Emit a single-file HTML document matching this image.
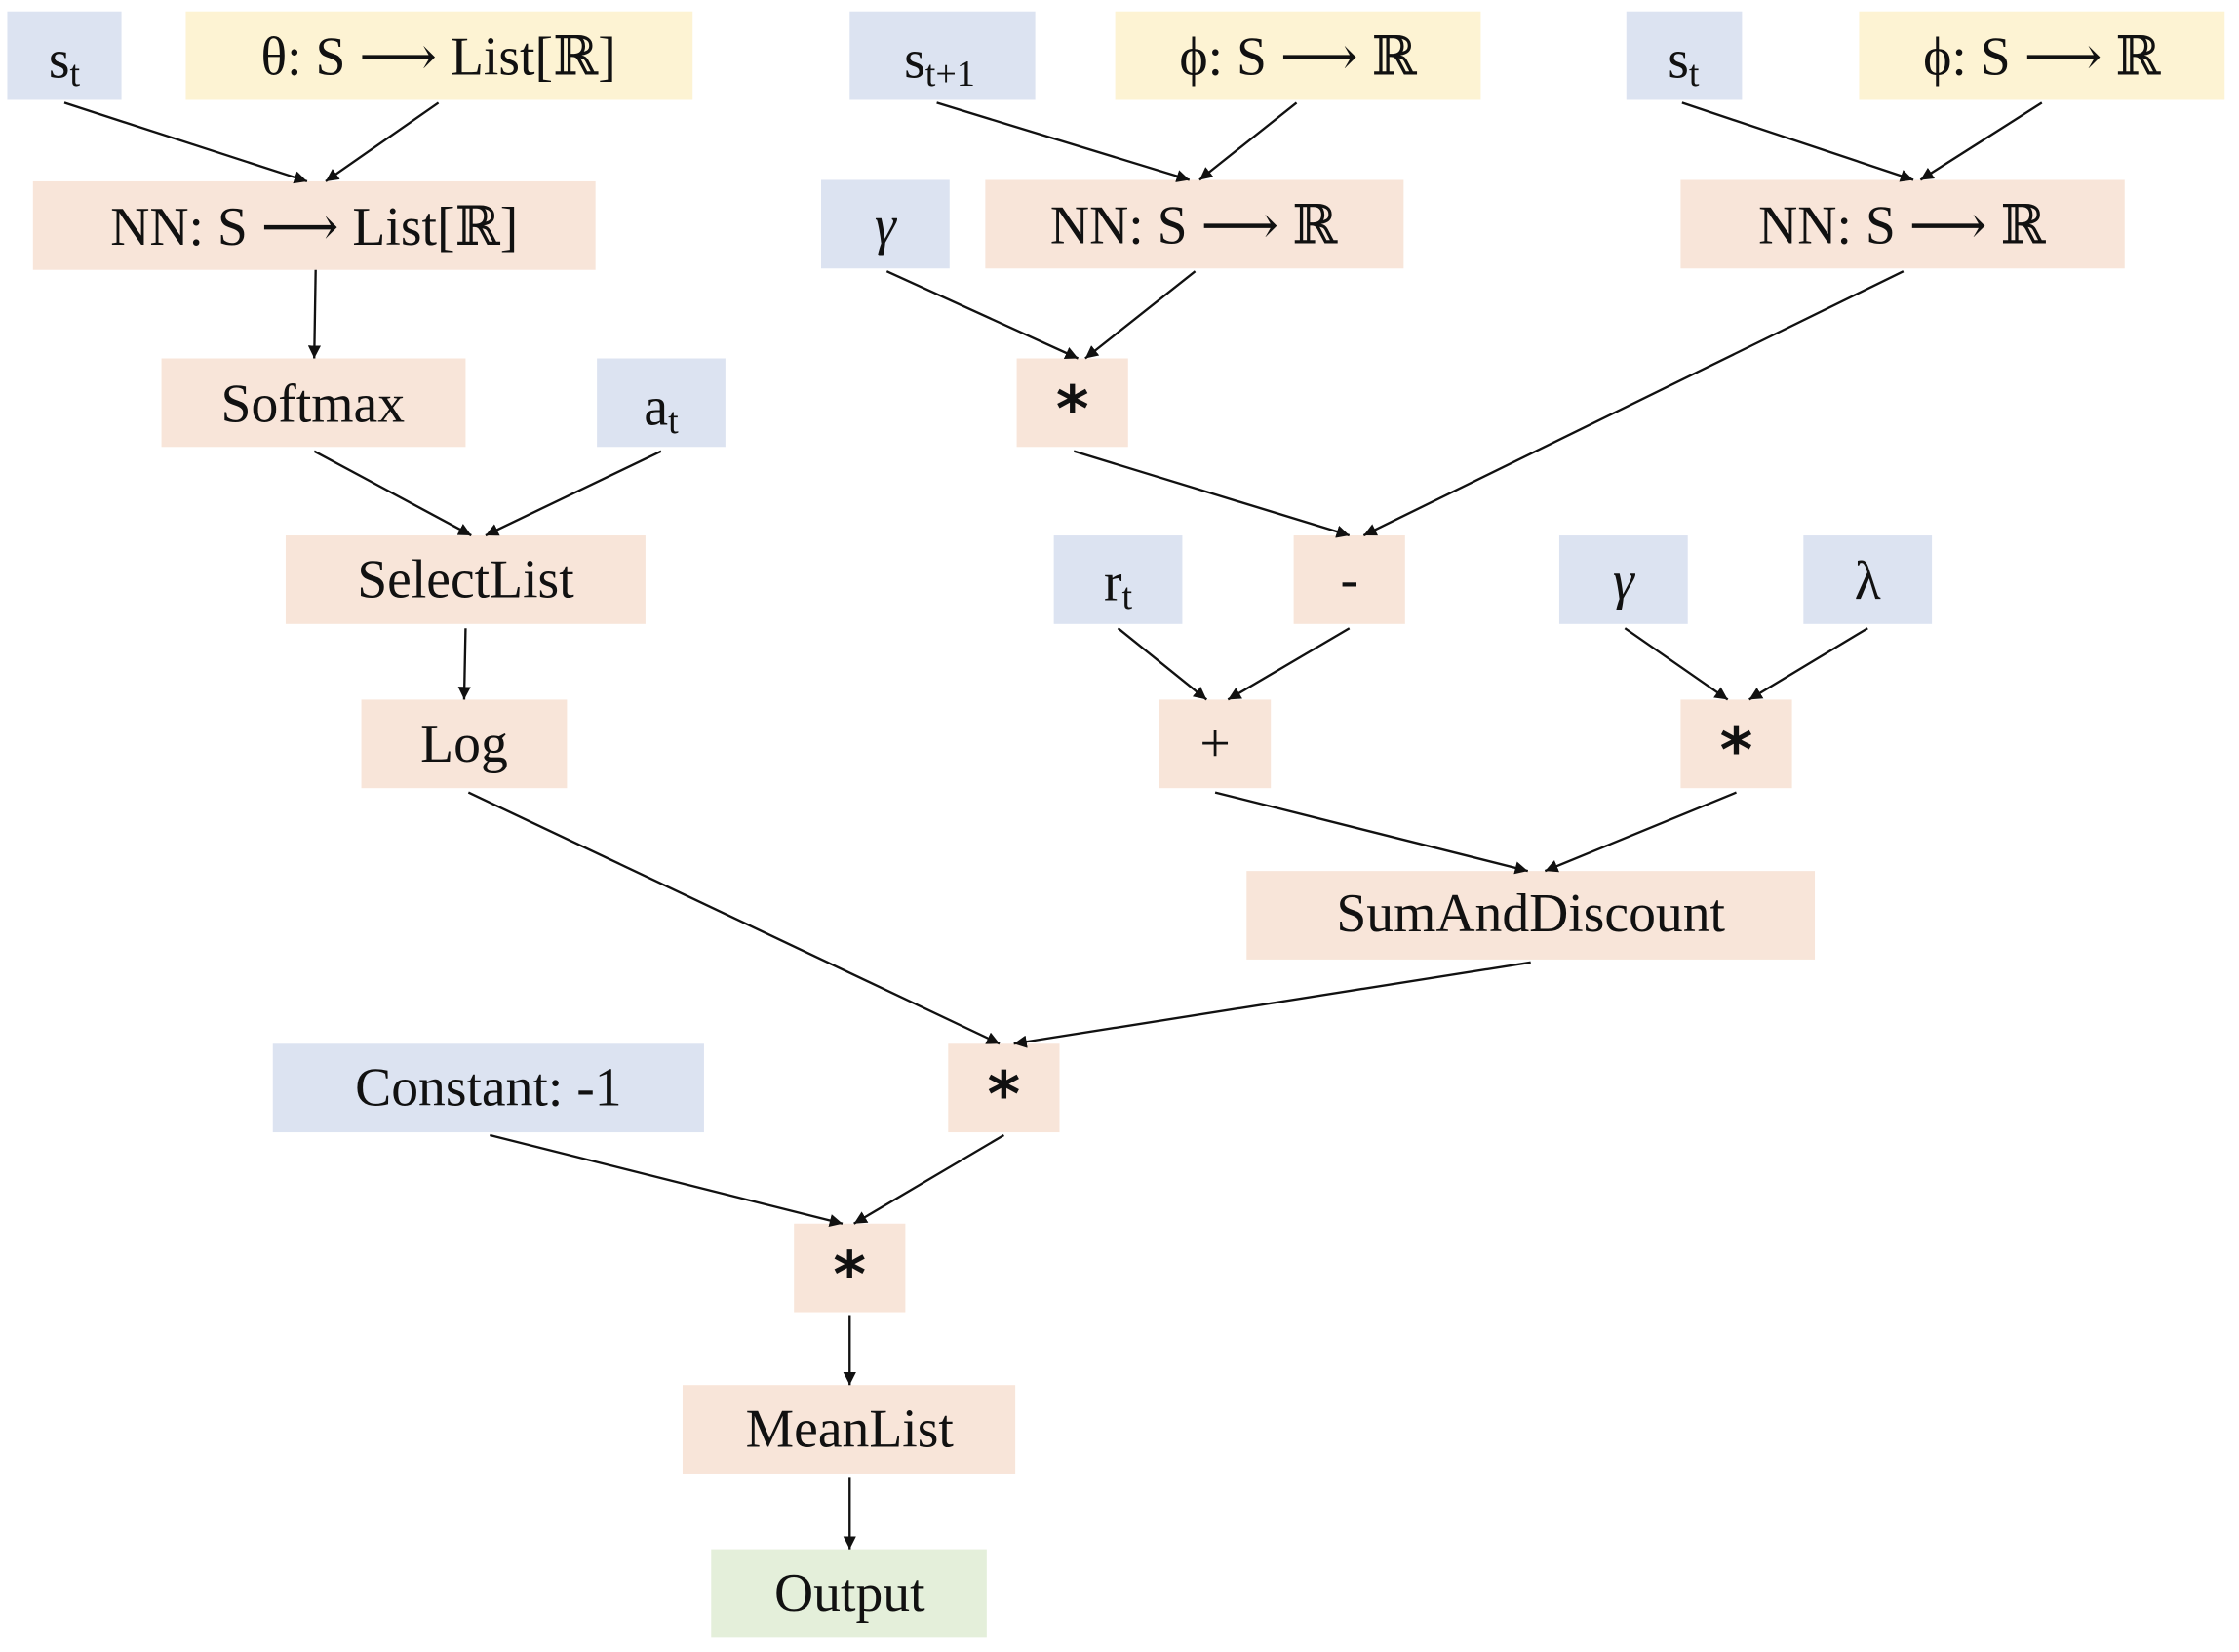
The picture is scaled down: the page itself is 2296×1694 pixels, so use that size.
<!DOCTYPE html>
<html><head><meta charset="utf-8"><style>
html,body{margin:0;padding:0;background:#fff;}
svg{display:block;}
text{font-family:"Liberation Serif","DejaVu Serif",serif;font-size:38px;fill:#111;text-anchor:middle;dominant-baseline:central;}
.b{fill:#dce3f1}.y{fill:#fdf3d3}.o{fill:#f8e5d9}.g{fill:#e4efda}
line{stroke:#111;stroke-width:1.6;marker-end:url(#ah);}
.sub{font-size:26px;}
.big{font-size:44px;font-weight:bold;font-family:"DejaVu Sans",sans-serif;}
</style></head><body>
<svg width="2296" height="1694" viewBox="0 0 1568 1157" xmlns="http://www.w3.org/2000/svg">
<defs><marker id="ah" viewBox="0 0 10 10" refX="10" refY="5" markerWidth="9" markerHeight="9" markerUnits="userSpaceOnUse" orient="auto"><path d="M0,0 L10,5 L0,10 z" fill="#111"/></marker></defs>
<rect class="b" x="5" y="8" width="80" height="62"/>
<text x="45" y="42">s<tspan class="sub" dy="10">t</tspan></text>
<rect class="y" x="130" y="8" width="355" height="62"/>
<text x="307" y="40">θ: S ⟶ List[ℝ]</text>
<rect class="o" x="23" y="127" width="394" height="62"/>
<text x="220" y="159">NN: S ⟶ List[ℝ]</text>
<rect class="o" x="113" y="251" width="213" height="62"/>
<text x="219" y="283">Softmax</text>
<rect class="b" x="418" y="251" width="90" height="62"/>
<text x="463" y="285">a<tspan class="sub" dy="10">t</tspan></text>
<rect class="o" x="200" y="375" width="252" height="62"/>
<text x="326" y="406">SelectList</text>
<rect class="o" x="253" y="490" width="144" height="62"/>
<text x="325" y="521">Log</text>
<rect class="b" x="595" y="8" width="130" height="62"/>
<text x="658" y="42">s<tspan class="sub" dy="10">t+1</tspan></text>
<rect class="y" x="781" y="8" width="256" height="62"/>
<text x="909" y="40">ϕ: S ⟶ ℝ</text>
<rect class="b" x="575" y="126" width="90" height="62"/>
<text x="620" y="158" font-style="italic">γ</text>
<rect class="o" x="690" y="126" width="293" height="62"/>
<text x="836" y="158">NN: S ⟶ ℝ</text>
<rect class="o" x="712" y="251" width="78" height="62"/>
<text class="big" x="751" y="287">*</text>
<rect class="b" x="1139" y="8" width="81" height="62"/>
<text x="1179" y="42">s<tspan class="sub" dy="10">t</tspan></text>
<rect class="y" x="1302" y="8" width="256" height="62"/>
<text x="1430" y="40">ϕ: S ⟶ ℝ</text>
<rect class="o" x="1177" y="126" width="311" height="62"/>
<text x="1332" y="158">NN: S ⟶ ℝ</text>
<rect class="b" x="738" y="375" width="90" height="62"/>
<text x="783" y="408">r<tspan class="sub" dy="10">t</tspan></text>
<rect class="o" x="906" y="375" width="78" height="62"/>
<text x="945" y="406">-</text>
<rect class="b" x="1092" y="375" width="90" height="62"/>
<text x="1137" y="407" font-style="italic">γ</text>
<rect class="b" x="1263" y="375" width="90" height="62"/>
<text x="1308" y="407">λ</text>
<rect class="o" x="812" y="490" width="78" height="62"/>
<text x="851" y="521">+</text>
<rect class="o" x="1177" y="490" width="78" height="62"/>
<text class="big" x="1216" y="526">*</text>
<rect class="o" x="873" y="610" width="398" height="62"/>
<text x="1072" y="640">SumAndDiscount</text>
<rect class="o" x="664" y="731" width="78" height="62"/>
<text class="big" x="703" y="767">*</text>
<rect class="b" x="191" y="731" width="302" height="62"/>
<text x="342" y="762">Constant: -1</text>
<rect class="o" x="556" y="857" width="78" height="62"/>
<text class="big" x="595" y="893">*</text>
<rect class="o" x="478" y="970" width="233" height="62"/>
<text x="595" y="1001">MeanList</text>
<rect class="g" x="498" y="1085" width="193" height="62"/>
<text x="595" y="1116">Output</text>

<line x1="45" y1="72" x2="215" y2="127"/>
<line x1="307" y1="72" x2="228" y2="127"/>
<line x1="221" y1="189" x2="220" y2="251"/>
<line x1="220" y1="316" x2="330" y2="375"/>
<line x1="463" y1="316" x2="340" y2="375"/>
<line x1="326" y1="440" x2="325" y2="490"/>
<line x1="328" y1="555" x2="700" y2="731"/>
<line x1="1072" y1="674" x2="710" y2="731"/>
<line x1="343" y1="795" x2="590" y2="857"/>
<line x1="703" y1="795" x2="598" y2="857"/>
<line x1="595" y1="921" x2="595" y2="970"/>
<line x1="595" y1="1035" x2="595" y2="1085"/>
<line x1="656" y1="72" x2="833" y2="126"/>
<line x1="908" y1="72" x2="840" y2="126"/>
<line x1="621" y1="190" x2="755" y2="251"/>
<line x1="837" y1="190" x2="760" y2="251"/>
<line x1="752" y1="316" x2="945" y2="375"/>
<line x1="1333" y1="190" x2="955" y2="375"/>
<line x1="1178" y1="72" x2="1340" y2="126"/>
<line x1="1430" y1="72" x2="1345" y2="126"/>
<line x1="783" y1="440" x2="845" y2="490"/>
<line x1="945" y1="440" x2="860" y2="490"/>
<line x1="1138" y1="440" x2="1210" y2="490"/>
<line x1="1308" y1="440" x2="1225" y2="490"/>
<line x1="851" y1="555" x2="1070" y2="610"/>
<line x1="1216" y1="555" x2="1082" y2="610"/>
</svg>
</body></html>
